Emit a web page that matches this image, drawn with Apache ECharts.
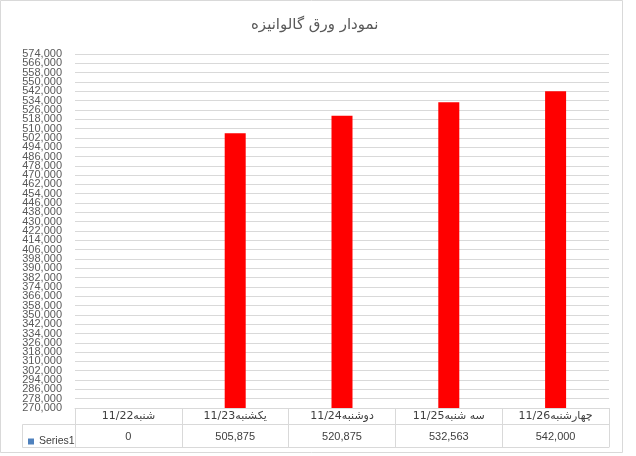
<!DOCTYPE html>
<html><head><meta charset="utf-8">
<script src="https://cdn.jsdelivr.net/npm/echarts@6/dist/echarts.min.js"></script>
<style>html,body{margin:0;padding:0;background:#fff}#c{width:636px;height:456px}</style>
</head><body><div id="c"></div>
<script>
const titleText = 'نمودار ورق گالوانیزه';
const categories = ['شنبه11/22', 'یکشنبه11/23', 'دوشنبه11/24', 'سه شنبه11/25', 'چهارشنبه11/26'];
const seriesName = 'Series1';
const values = [0, 505875, 520875, 532563, 542000];
const yMin = 270000, yMax = 574000, yStep = 8000;

const fmt = v => Number(v).toLocaleString('en-US');
const valueLabels = values.map(fmt);
const lineCol = '#d9d9d9';
const numFont = 'Liberation Sans';
const faFont = 'DejaVu Sans';
const yLabelStyle = {margin: 13, hideOverlap: false, fontFamily: numFont, fontSize: 11, color: '#595959'};

const chart = echarts.init(document.getElementById('c'), null, {renderer: 'canvas'});
chart.setOption({
  animation: false,
  backgroundColor: '#fff',
  title: {
    text: titleText, left: 246, top: 13,
    textStyle: {fontFamily: faFont, fontSize: 15, fontWeight: 'normal', color: '#595959'}
  },
  legend: {
    data: [{name: seriesName, itemStyle: {color: '#4F81BD'}}],
    left: 23, top: 431, itemWidth: 6, itemHeight: 6, itemGap: 2,
    icon: 'rect', selectedMode: false,
    textStyle: {fontFamily: numFont, fontSize: 10.5, color: '#404040'}
  },
  grid: {left: 75, right: 27, top: 54, bottom: 48, containLabel: false},
  xAxis: [
    {type: 'category', data: categories, position: 'bottom',
     axisLine: {show: true, lineStyle: {color: lineCol}},
     axisTick: {show: true, length: 39, lineStyle: {color: lineCol}},
     axisLabel: {interval: 0, margin: 3, fontFamily: faFont, fontSize: 11, color: '#404040'}},
    {type: 'category', data: valueLabels, position: 'bottom', offset: 16,
     axisLine: {show: true, lineStyle: {color: lineCol}},
     axisTick: {show: false},
     axisLabel: {interval: 0, margin: 7, fontFamily: numFont, fontSize: 11, color: '#404040'}},
    {type: 'category', data: valueLabels, position: 'bottom', offset: 39,
     axisLine: {show: true, lineStyle: {color: lineCol}},
     axisTick: {show: false}, axisLabel: {show: false}}
  ],
  yAxis: [
    {type: 'value', min: yMin, max: yMax, interval: yStep, position: 'left',
     axisLine: {show: false}, axisTick: {show: false},
     splitLine: {show: true, lineStyle: {color: lineCol}},
     axisLabel: Object.assign({showMinLabel: false, showMaxLabel: false, formatter: fmt}, yLabelStyle)},
    {type: 'value', min: yMin, max: yMax, interval: yStep, position: 'left',
     axisLine: {show: false}, axisTick: {show: false}, splitLine: {show: false},
     axisLabel: Object.assign({showMinLabel: true, showMaxLabel: true,
       formatter: v => (v === yMin || v === yMax) ? fmt(v) : ''}, yLabelStyle)}
  ],
  series: [{
    name: seriesName, type: 'bar', data: values, xAxisIndex: 0, yAxisIndex: 0,
    barWidth: 21, clip: true,
    itemStyle: {color: '#ff0000'}
  }],
  graphic: [
    {type: 'rect', shape: {x: 0.5, y: 0.5, width: 622, height: 452}, style: {fill: null, stroke: lineCol, lineWidth: 1}, silent: true},
    {type: 'line', shape: {x1: 22.5, y1: 424.5, x2: 75, y2: 424.5}, style: {stroke: lineCol, lineWidth: 1}, silent: true},
    {type: 'line', shape: {x1: 22.5, y1: 447.5, x2: 75, y2: 447.5}, style: {stroke: lineCol, lineWidth: 1}, silent: true},
    {type: 'line', shape: {x1: 22.5, y1: 424.5, x2: 22.5, y2: 447.5}, style: {stroke: lineCol, lineWidth: 1}, silent: true}
  ]
});
</script></body></html>
